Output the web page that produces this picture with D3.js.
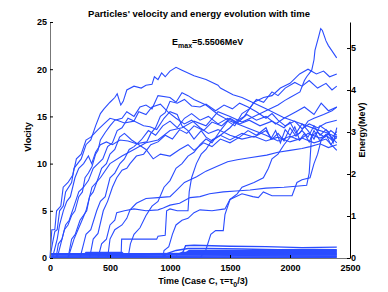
<!DOCTYPE html>
<meta charset="utf-8">
<script src="https://d3js.org/d3.v7.min.js"></script>
<style>
  body { margin: 0; background: #fff; }
  text { font-family: "Liberation Sans", Arial, sans-serif; }
</style>
<div id="my_dataviz"></div>
<script>

// tick values
var timeTicks = [0, 500, 1000, 1500, 2000, 2500];
var velTicks = [0, 5, 10, 15, 20, 25];
var energyTicks = [0, 1, 2, 3, 4, 5];

// particle tracks [time, velocity]
var track01 = [[0,0],[20,1.5],[40,2.8],[60,3],[80,5],[110,5.5],[130,7],[180,8],[200,9.5],[260,10.5],[300,12],[340,12.5],[380,14],[420,15.3],[450,15.8],[500,16.5],[540,17],[560,17.4],[590,16.2],[610,16.6],[640,17.8],[700,18.2],[760,18],[800,18.3],[850,18.4],[870,19.2],[900,18.9],[930,19.6],[960,19.2],[1000,19.8],[1050,20.2],[1100,19.9],[1200,19.3],[1300,18.9],[1400,18.3],[1420,18],[1525,17.3],[1600,17],[1667,16.6],[1800,15.8],[1942,14.9],[2100,14.2],[2225,13.6],[2300,13.3],[2392,12.8]];
var track02 = [[150,0],[200,2],[250,3.5],[300,5],[350,7.5],[420,8.5],[500,10],[600,10.8],[700,11.5],[800,12.2],[900,12.5],[1000,13.5],[1100,13.8],[1200,14.5],[1300,14],[1400,15.5],[1500,15],[1600,14.4],[1700,15],[1800,15.6],[1900,16.2],[1958,16.7],[2000,17],[2083,17.6],[2120,18.8],[2139,19.2],[2181,19.9],[2200,21],[2208,22],[2240,23.5],[2256,24.3],[2270,24.1],[2300,23],[2320,22.5],[2347,22],[2389,21.2]];
var track03 = [[0,0],[15,3],[40,3],[55,5],[90,5.5],[110,7.5],[150,8],[190,8.8],[220,10.5],[260,11],[300,12.5],[340,12.8],[400,13.6],[450,14.2],[500,14.8],[560,14.6],[620,14.3],[700,14.5],[780,14],[833,13.9],[889,13.6],[950,14.8],[1000,15.5],[1060,15.2],[1100,14],[1150,13.5],[1200,12.6],[1260,13.5],[1300,12.8],[1350,12.4],[1420,13],[1500,12.5],[1600,13.2],[1700,12.8],[1800,13.5],[1850,12.6],[1900,13.2],[1950,12.4],[2000,13.8],[2050,12.9],[2100,13.5],[2150,12.8],[2200,14],[2250,13],[2300,13.6],[2350,12.7],[2390,13.4]];
var track04 = [[20,0],[60,2],[80,3.5],[111,5],[140,6],[170,6.5],[208,8.5],[240,9.5],[280,10],[320,10.8],[347,10],[380,11.2],[420,12],[470,12.3],[520,12],[583,12.5],[650,12.4],[720,12.1],[806,12.3],[840,13.2],[880,13.8],[920,15],[960,15.4],[1000,16.6],[1060,16.4],[1120,16.8],[1180,16.1],[1250,16],[1300,16.3],[1380,15.6],[1450,16.2],[1520,15.8],[1580,16.4],[1650,16],[1720,15.5],[1800,14.8],[1850,15.3],[1900,14.6],[1960,14],[2040,14.5],[2100,13.7],[2160,14.2],[2230,13.8],[2300,14.3],[2390,14.6]];
var track05 = [[60,0],[90,1.5],[120,3],[150,3.5],[180,4.5],[208,5],[240,6.5],[270,7],[292,8.5],[320,9],[350,9.7],[380,11],[400,11.4],[420,12.5],[460,13.3],[500,14],[540,14.6],[600,14.8],[640,15.5],[700,15],[750,16],[800,16.2],[850,15.8],[900,17.2],[1000,17],[1050,16.5],[1100,17.5],[1150,17.2],[1200,16.8],[1300,16.2],[1400,15.2],[1500,14.5],[1600,14],[1700,13.5],[1800,13],[1900,12.4],[2000,12.9],[2080,12.5],[2150,13.2],[2250,12.7],[2320,13.1],[2390,12.2]];
var track06 = [[150,0],[180,2],[210,2.5],[250,4],[306,5],[330,6.5],[360,7],[403,8.5],[430,9.5],[470,10],[500,11],[540,11.5],[580,12.8],[620,13.2],[680,12.5],[740,12],[800,11.5],[860,10.5],[920,11],[1000,10.8],[1080,11.5],[1150,12],[1200,11.4],[1280,12.2],[1350,11.8],[1420,12.6],[1500,12.2],[1580,12.8],[1650,13.5],[1720,13],[1800,13.8],[1840,12.6],[1880,13.5],[1920,12.2],[1960,13.6],[2000,13],[2040,13.9],[2080,12.5],[2120,13.2],[2160,12.3],[2200,13.5],[2250,12.4],[2300,13.1],[2340,12],[2390,12.9]];
var track07 = [[250,0],[280,1.5],[300,2.5],[340,3],[389,5],[420,6],[460,6.5],[500,8.5],[540,9],[583,10],[620,10.5],[660,11.5],[700,11.8],[760,12.5],[820,13.5],[880,13],[940,14],[1000,14.5],[1060,13.8],[1120,14.8],[1180,15.3],[1250,14.6],[1320,15],[1400,14.2],[1480,14.8],[1560,14.3],[1640,15.2],[1720,14.6],[1800,15],[1880,14.2],[1950,14.8],[2050,15.5],[2120,16],[2200,15.2],[2260,16.4],[2320,15.6],[2390,16]];
var track08 = [[330,0],[360,2],[400,2.6],[444,5],[480,6],[520,7.5],[556,8.5],[600,9.3],[640,9.5],[667,10],[720,10.8],[780,11],[840,12],[900,12.3],[960,13],[1020,12.6],[1080,13.6],[1140,13.2],[1200,14],[1280,13.5],[1350,14.4],[1430,14],[1500,14.8],[1580,14.2],[1660,14.6],[1750,14],[1850,14.5],[1950,13.8],[2000,14.4],[2050,13.2],[2100,14.2],[2150,13.5],[2200,12.6],[2250,14],[2320,13.4],[2360,12.2],[2390,13.8]];
var track09 = [[580,0],[592,0],[597,2],[700,2],[889,2],[900,2.3],[960,2.4],[972,5],[1000,5.2],[1060,5],[1150,5],[1160,7],[1180,8.5],[1220,10],[1260,11],[1300,11.5],[1350,12.5],[1420,13],[1500,13.8],[1550,14.5],[1620,15],[1700,16.5],[1780,17],[1850,17.2],[1920,18],[2000,18.5],[2080,19.5],[2150,20],[2220,19.5],[2280,19.8],[2330,19.2],[2390,19.5]];
var track10 = [[400,0],[430,1.5],[470,2],[500,3.5],[540,4],[556,4.8],[620,5],[700,5.2],[800,5],[900,5.1],[944,5.3],[1000,5.6],[1080,5.8],[1167,6.4],[1250,6.5],[1330,6.8],[1444,7],[1550,7.1],[1667,7.2],[1800,7.4],[1950,7.5],[2050,7.6],[2139,7.7],[2160,9],[2170,11],[2180,13],[2230,13.3],[2290,12.8],[2340,13.5],[2390,13]];
var track11 = [[480,0],[500,2],[540,3],[600,3.5],[640,4.2],[667,5.1],[720,5.8],[800,6.3],[900,6.4],[1000,6.5],[1056,7.2],[1120,8],[1222,8.6],[1300,9.2],[1389,9.7],[1480,10.2],[1560,10.4],[1650,10.6],[1806,10.9],[1900,11.2],[2000,11.4],[2100,11.6],[2167,11.8],[2250,12.1],[2320,11.7],[2390,12]];
var track12 = [[940,0],[950,0.8],[990,1.2],[1020,2.5],[1050,3.5],[1100,4],[1150,4.2],[1200,4.8],[1250,5.1],[1350,5],[1458,5.2],[1500,6.2],[1560,6.8],[1600,7.5],[1700,8],[1778,8.5],[1820,9.5],[1850,10.5],[1900,11],[1950,12],[2000,12.8],[2080,13.2],[2150,14.5],[2200,14.8],[2280,15.2],[2350,15.6],[2390,16]];
var track13 = [[1250,0],[1300,0.9],[1340,2.5],[1380,2.9],[1444,2.9],[1458,4.6],[1500,6.2],[1600,6.8],[1690,6.5],[1736,6.4],[1778,7],[1850,6.6],[1890,6.6],[2017,6.6],[2058,8],[2100,8.3],[2167,8.5],[2200,10],[2230,11],[2260,12.5],[2300,13],[2350,12.5],[2390,12.7]];
var track14 = [[50,0],[70,1.5],[100,2],[130,3.5],[160,4],[200,5.5],[240,7],[280,7.5],[320,8.2],[360,9.5],[400,10],[440,10.5],[480,11.8],[520,12.2],[560,13.5],[600,13.8],[650,14.8],[700,14.5],[740,15.5],[800,15.2],[850,16],[920,16.3],[980,15.5],[1050,14.8],[1120,14.2],[1180,14.6],[1250,13.8],[1320,13.2],[1400,13.6],[1500,13],[1600,12.6],[1700,12.9],[1800,12.4],[1900,12.8],[2000,12.3],[2100,12.7],[2200,12.2],[2300,12.6],[2390,11.4]];
var track15 = [[650,0],[670,1.5],[700,2.5],[750,3.2],[800,4.5],[850,5.5],[900,6],[950,7.5],[1000,8.2],[1050,9.5],[1100,10],[1150,10.8],[1200,11.2],[1250,12],[1300,12.6],[1350,12.2],[1420,13.5],[1480,14.5],[1540,14],[1600,15.3],[1660,15.8],[1720,16.8],[1780,16.5],[1850,17.6],[1900,17.2],[1960,18],[2040,18.6],[2100,18.2],[2160,18.8],[2230,18],[2300,18.5],[2350,17.8],[2390,18.2]];

// slow particles that stay near the bottom
var slow01 = [[0,0.05],[2390,0.05]];
var slow02 = [[0,0.12],[700,0.14],[1400,0.12],[2390,0.15]];
var slow03 = [[0,0.2],[500,0.22],[1000,0.2],[1600,0.24],[2390,0.22]];
var slow04 = [[0,0.3],[600,0.28],[1100,0.32],[1700,0.3],[2390,0.32]];
var slow05 = [[0,0.38],[400,0.36],[900,0.4],[1300,0.38],[2390,0.4]];
var slow06 = [[0,0.45],[800,0.46],[1100,0.48],[1200,0.5],[2390,0.5]];
var slow07 = [[1050,0.3],[1100,0.6],[1500,0.58],[2000,0.6],[2390,0.58]];
var slow08 = [[1120,0.4],[1150,0.7],[1600,0.68],[2390,0.7]];
var slow09 = [[1130,0.5],[1160,0.8],[1700,0.78],[2390,0.8]];
var slow10 = [[1100,0.4],[1130,1.3],[1200,1.35],[1500,1.25],[1800,1.2],[2100,1.1],[2390,1.15]];
var slow11 = [[950,0.2],[980,0.5],[1050,0.8],[1150,1],[1300,1],[1600,0.95],[1900,0.88],[2200,0.9],[2390,0.88]];
var slow12 = [[280,0.3],[300,0.6],[600,0.6],[620,0.35]];

var tracks = [slow01, slow02, slow03, slow04, slow05, slow06, slow07, slow08, slow09, slow10, slow11, slow12,
  track01, track02, track03, track04, track05, track06, track07, track08,
  track09, track10, track11, track12, track13, track14, track15];

var svg = d3.select("#my_dataviz")
  .append("svg")
    .attr("width", 388)
    .attr("height", 292)

var x = d3.scaleLinear().domain([0, 2500]).range([50, 350])
var y = d3.scaleLinear().domain([0, 25]).range([258, 22])
var yE = d3.scaleLinear().domain([0, 5.62]).range([258, 22])

var line = d3.line()
  .x(function(d) { return x(d[0]) })
  .y(function(d) { return y(d[1]) })

// tracks
svg.append("g")
  .selectAll("path")
  .data(tracks)
  .enter()
  .append("path")
    .attr("d", line)
    .style("fill", "none")
    .style("stroke", "#2a4cff")
    .style("stroke-width", function(d, i) { return i < 12 ? 1.4 : 1.1 })

// axes
var fmt = d3.format("d")
var gx = svg.append("g")
  .attr("transform", "translate(0,258)")
  .call(d3.axisBottom(x).tickValues(timeTicks).tickFormat(fmt).tickSize(-3).tickSizeOuter(0).tickPadding(7))
var gy = svg.append("g")
  .attr("transform", "translate(50,0)")
  .call(d3.axisLeft(y).tickValues(velTicks).tickFormat(fmt).tickSize(-3).tickSizeOuter(0).tickPadding(3))
var gE = svg.append("g")
  .attr("transform", "translate(350,0)")
  .call(d3.axisRight(yE).tickValues(energyTicks).tickFormat(fmt).tickSize(-3).tickSizeOuter(0).tickPadding(1))

gx.select(".domain").style("stroke", "#777")
gy.select(".domain").style("stroke", "#777")
gE.select(".domain").style("stroke", "#000")

svg.selectAll(".tick text")
  .style("font-family", "Liberation Sans, Arial, sans-serif")
  .style("font-size", "9px")
  .style("font-weight", "bold")
  .style("fill", "#000")

// title and labels
svg.append("text")
  .attr("x", 199).attr("y", 17)
  .attr("text-anchor", "middle")
  .style("font-size", "9.5px").style("font-weight", "bold")
  .text("Particles' velocity and energy evolution with time")

var emax = svg.append("text")
  .attr("x", 172).attr("y", 45)
  .style("font-size", "9px").style("font-weight", "bold")
emax.append("tspan").text("E")
emax.append("tspan").attr("dy", 3).style("font-size", "7px").text("max")
emax.append("tspan").attr("dy", -3).text("=5.5506MeV")

var xl = svg.append("text")
  .attr("x", 203).attr("y", 284)
  .attr("text-anchor", "middle")
  .style("font-size", "9px").style("font-weight", "bold")
xl.append("tspan").text("Time (Case C, τ=τ")
xl.append("tspan").attr("dy", 2.5).style("font-size", "7px").text("0")
xl.append("tspan").attr("dy", -2.5).text("/3)")

svg.append("text")
  .attr("transform", "translate(31,137) rotate(-90)")
  .attr("text-anchor", "middle")
  .style("font-size", "9px").style("font-weight", "bold")
  .text("Vlocity")

svg.append("text")
  .attr("transform", "translate(365,130) rotate(-90)")
  .attr("text-anchor", "middle")
  .style("font-size", "9px").style("font-weight", "bold")
  .text("Energy(MeV)")

</script>
